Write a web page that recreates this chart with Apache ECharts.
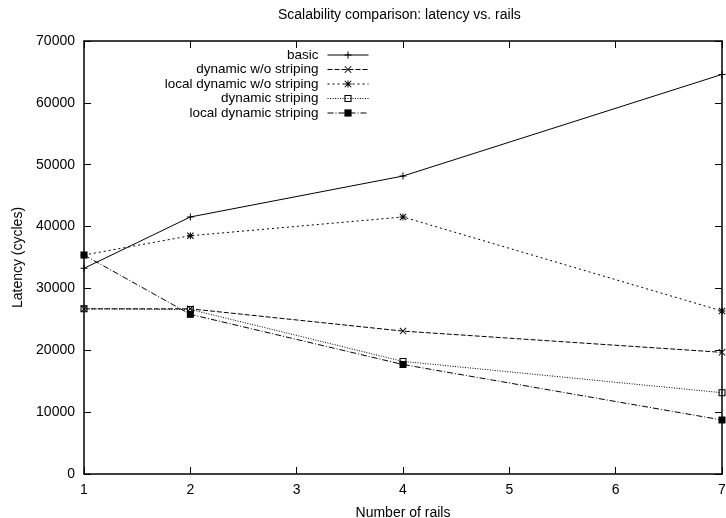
<!DOCTYPE html>
<html><head><meta charset="utf-8">
<script src="https://cdn.jsdelivr.net/npm/echarts@6/dist/echarts.min.js"></script>
<style>html,body{margin:0;padding:0;background:#fff}#c{width:726px;height:518px}</style>
</head><body><div id="c"></div>
<script>
const rails = [1, 2, 4, 7];
const seriesNames = ['basic', 'dynamic w/o striping', 'local dynamic w/o striping', 'dynamic striping', 'local dynamic striping'];
const basic = [33250, 41550, 48170, 64600];
const dynNoStripe = [26700, 26700, 23100, 19670];
const localDynNoStripe = [35400, 38520, 41550, 26350];
const dynStripe = [26700, 26600, 18200, 13140];
const localDynStripe = [35400, 25810, 17700, 8730];
const xTicks = [1, 2, 3, 4, 5, 6, 7];
const yTicks = [0, 10000, 20000, 30000, 40000, 50000, 60000, 70000];
const titleText = 'Scalability comparison: latency vs. rails';
const xName = 'Number of rails';
const yName = 'Latency (cycles)';

const values = [basic, dynNoStripe, localDynNoStripe, dynStripe, localDynStripe];
const PLUS = 'M0,4.3H10V5.7H0Z M4.3,0H5.7V10H4.3Z';
const CROSS = 'M0,1L1,0L10,9L9,10Z M9,0L10,1L1,10L0,9Z';
const symbols = [
  'path://' + PLUS,
  'path://' + CROSS,
  'path://' + PLUS + ' ' + CROSS,
  'path://M0,0H10V10H0Z M1.5,1.5V8.5H8.5V1.5Z',
  'rect'
];
const dashes = ['solid', [5, 2], [2, 3], [1, 1.5], [6, 2, 1, 2]];
const font = 'Liberation Sans, Arial, Helvetica, sans-serif';

const series = seriesNames.map((n, i) => ({
  name: n,
  type: 'line',
  xAxisIndex: 0, yAxisIndex: 0,
  data: rails.map((x, j) => [x, values[i][j]]),
  symbol: symbols[i],
  symbolSize: 7,
  showSymbol: true,
  animation: false,
  lineStyle: { color: '#000', width: 1, type: dashes[i] },
  itemStyle: { color: '#000', borderWidth: 0 },
  emphasis: { disabled: true }
}));

const legends = seriesNames.map((n, i) => ({
  data: [n],
  orient: 'vertical',
  align: 'right',
  right: 357,
  top: 48 + i * 14.5,
  padding: 0,
  itemWidth: 41,
  itemHeight: 9,
  selectedMode: false,
  lineStyle: { width: 1 },
  textStyle: { fontFamily: font, fontSize: 13.5, color: '#000', padding: [0, 4, 0, 0] }
}));

const axisCommon = {
  axisLine: { show: true, onZero: false, lineStyle: { color: '#000', width: 1.5 } },
  axisTick: { show: true, inside: true, length: 7, lineStyle: { color: '#000', width: 1 } },
  splitLine: { show: false }
};

const chart = echarts.init(document.getElementById('c'), null, { renderer: 'canvas' });
chart.setOption({
  backgroundColor: '#fff',
  animation: false,
  title: {
    text: titleText, left: 278, top: 8, padding: 0,
    textStyle: { fontFamily: font, fontSize: 14, fontWeight: 'normal', color: '#000' }
  },
  legend: legends,
  grid: { left: 84, right: 4, top: 41, bottom: 44, containLabel: false, outerBoundsMode: 'none' },
  xAxis: [
    Object.assign({}, axisCommon, {
      type: 'value', min: xTicks[0], max: xTicks[xTicks.length - 1], interval: 1,
      position: 'bottom',
      name: xName, nameLocation: 'middle', nameGap: 32,
      nameTextStyle: { fontFamily: font, fontSize: 14, color: '#000' },
      axisLabel: { fontFamily: font, fontSize: 14, color: '#000', margin: 9 }
    }),
    Object.assign({}, axisCommon, {
      type: 'value', min: xTicks[0], max: xTicks[xTicks.length - 1], interval: 1,
      position: 'top', axisLabel: { show: false }
    })
  ],
  yAxis: [
    Object.assign({}, axisCommon, {
      type: 'value', min: yTicks[0], max: yTicks[yTicks.length - 1], interval: 10000,
      position: 'left',
      name: yName, nameLocation: 'middle', nameGap: 57, nameRotate: 90,
      nameTextStyle: { fontFamily: font, fontSize: 14, color: '#000' },
      axisLabel: { fontFamily: font, fontSize: 14, color: '#000', margin: 9, formatter: v => String(v) }
    }),
    Object.assign({}, axisCommon, {
      type: 'value', min: yTicks[0], max: yTicks[yTicks.length - 1], interval: 10000,
      position: 'right', axisLabel: { show: false }
    })
  ],
  series: series
});
</script>
</body></html>
